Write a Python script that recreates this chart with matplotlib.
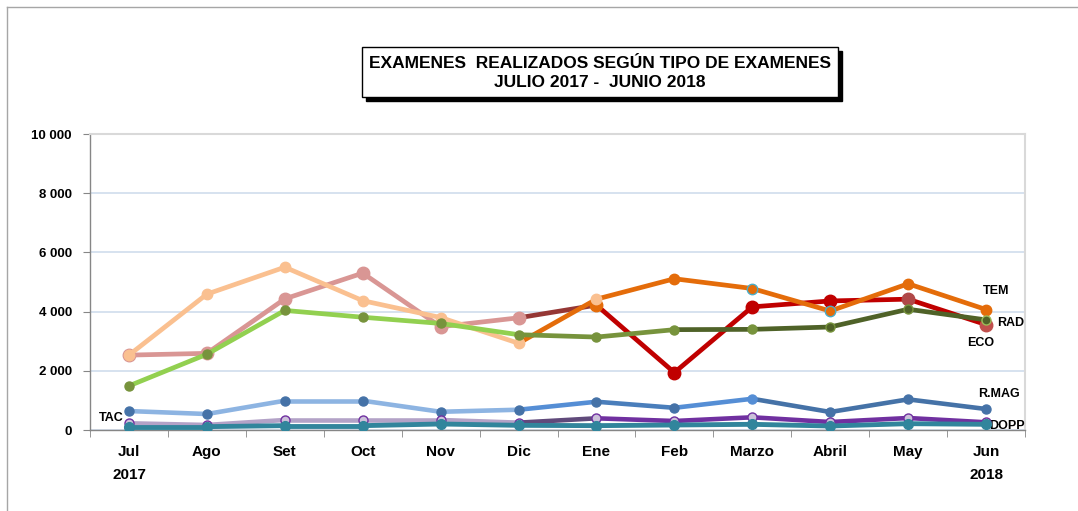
import matplotlib
matplotlib.use("Agg")
import matplotlib.pyplot as plt
from matplotlib.patches import Rectangle
from matplotlib.lines import Line2D

plt.rcParams['font.family'] = ['Liberation Sans', 'DejaVu Sans']

months = ["Jul\n2017", "Ago", "Set", "Oct", "Nov", "Dic", "Ene", "Feb",
          "Marzo", "Abril", "May", "Jun\n2018"]
yticks = [0, 2000, 4000, 6000, 8000, 10000]
ytick_labels = ["0", "2 000", "4 000", "6 000", "8 000", "10 000"]

ECO = [2530, 2590, 4430, 5300, 3490, 3790, 4220, 1940, 4160, 4360, 4420, 3560]
TEM = [2530, 4590, 5500, 4370, 3800, 2930, 4420, 5110, 4780, 4020, 4940, 4070]
RAD = [1490, 2560, 4040, 3810, 3600, 3220, 3140, 3390, 3400, 3480, 4080, 3720]
RMAG = [640, 540, 990, 990, 615, 685, 955, 750, 1055, 608, 1035, 709]
TAC = [226, 170, 338, 338, 338, 248, 395, 304, 429, 270, 405, 260]
DOPP = [113, 113, 147, 147, 203, 158, 147, 169, 192, 135, 214, 192]

# segment colours (11 segments) and marker styles (12 points)
ECO_seg = ['#D99694'] * 5 + ['#953735'] + ['#C00000'] * 5
ECO_mk = ['#D99694'] * 6 + ['#E46C0A', '#C00000', '#C00000', '#C00000', '#B04848', '#C0504D']
TEM_seg = ['#FAC090'] * 5 + ['#E46C0A'] * 6
TEM_mk = ['#FAC090'] * 7 + ['#E46C0A'] * 5
TEM_mke = ['#FAC090'] * 7 + ['#E46C0A', '#4BACC6', '#4BACC6', '#E46C0A', '#E46C0A']
RAD_seg = ['#92D050'] * 5 + ['#77933C', '#77933C'] + ['#4F6228'] * 4
RAD_mk = ['#77933C'] * 9 + ['#4F6228', '#4F6228', '#4F6228']
RAD_mke = ['#77933C'] * 9 + ['#77933C', '#77933C', '#9BBB59']
RMAG_seg = ['#8DB4E2'] * 5 + ['#558ED5', '#4A7EBB', '#558ED5'] + ['#4572A7'] * 3
RMAG_mk = ['#4572A7'] * 8 + ['#558ED5'] + ['#4572A7'] * 3
TAC_seg = ['#B3A2C7'] * 5 + ['#604A7B'] + ['#7030A0'] * 5
DOPP_seg = ['#31859C'] * 11

fig = plt.figure(figsize=(10.78, 5.11), dpi=100)
W, H = 1078, 511
ax = fig.add_axes([90 / W, 81 / H, 935 / W, 296 / H])

x = list(range(len(months)))


def draw(vals, segs, mface, medge, ms, lw, z):
    for i in range(len(vals) - 1):
        ax.plot([x[i], x[i + 1]], [vals[i], vals[i + 1]], color=segs[i], lw=lw,
                solid_capstyle='round', zorder=z)
    for i in range(len(vals)):
        ax.plot([x[i]], [vals[i]], 'o', ms=ms, mfc=mface[i], mec=medge[i],
                mew=1.0, zorder=z + 0.5)


draw(RMAG, RMAG_seg, RMAG_mk, RMAG_mk, 6.5, 3.3, 3)
draw(TAC, TAC_seg, ['#CCC1DA'] * 12, ['#7030A0'] * 12, 6.5, 3.3, 4)
draw(DOPP, DOPP_seg, ['#31859C'] * 12, ['#31859C'] * 12, 7, 3.5, 5)
draw(ECO, ECO_seg, ECO_mk, ECO_mk, 9, 3.4, 6)
draw(TEM, TEM_seg, TEM_mk, TEM_mke, 7.5, 3.4, 7)
draw(RAD, RAD_seg, RAD_mk, RAD_mke, 6.5, 3.4, 8)

ax.set_xlim(-0.5, 11.5)
ax.set_ylim(0, 10000)
ax.set_yticks(yticks)
ax.set_yticklabels(ytick_labels, fontsize=9.5, fontweight='bold')
ax.set_xticks(x)
ax.set_xticklabels(months, fontsize=11, fontweight='bold', linespacing=1.8)
ax.set_xticks([i + 0.5 for i in range(-1, 12)], minor=True)
ax.tick_params(axis='x', which='major', length=0, pad=11)
ax.tick_params(axis='x', which='minor', length=5, direction='out', color='#868686')
ax.tick_params(axis='y', length=5, direction='out', color='#868686', pad=8)
ax.grid(axis='y', color='#D3DFEE', lw=1.3, zorder=0)
ax.set_axisbelow(True)
for s in ['left', 'bottom']:
    ax.spines[s].set_color('#868686')
    ax.spines[s].set_linewidth(1.0)
for s in ['top', 'right']:
    ax.spines[s].set_color('#D9D9D9')
    ax.spines[s].set_linewidth(1.5)

# series labels
lab = dict(fontsize=9, fontweight='bold', ha='center', va='center',
           textcoords='offset points')
ax.annotate('TEM', (11, TEM[-1]), xytext=(7, 13), **lab)
ax.annotate('RAD', (11, RAD[-1]), xytext=(18, -2), **lab)
ax.annotate('ECO', (11, ECO[-1]), xytext=(-4, -13), **lab)
ax.annotate('R.MAG', (11, RMAG[-1]), xytext=(9, 11), **lab)
ax.annotate('DOPP', (11, DOPP[-1]), xytext=(15, -1), **lab)
ax.annotate('TAC', (0, TAC[0]), xytext=(-13, 4), **lab)

# title box with shadow
bx0, by0, bx1, by1 = 362, 47, 838, 97
sh = 4
fig.patches.append(Rectangle(((bx0 + sh) / W, 1 - (by1 + sh) / H), (bx1 - bx0) / W,
                             (by1 - by0) / H, transform=fig.transFigure,
                             facecolor='black', edgecolor='black', zorder=1))
fig.patches.append(Rectangle((bx0 / W, 1 - by1 / H), (bx1 - bx0) / W,
                             (by1 - by0) / H, transform=fig.transFigure,
                             facecolor='white', edgecolor='black', lw=1.0, zorder=2))
fig.text((bx0 + bx1) / 2 / W, 1 - 73 / H,
         "EXAMENES  REALIZADOS SEGÚN TIPO DE EXAMENES\nJULIO 2017 -  JUNIO 2018",
         ha='center', va='center', fontsize=12.5, fontweight='bold',
         linespacing=1.3, zorder=3)

# outer frame (top and left)
fig.add_artist(Line2D([7 / W, 1], [1 - 7 / H, 1 - 7 / H], transform=fig.transFigure,
                      color='#A6A6A6', lw=1.0))
fig.add_artist(Line2D([7 / W, 7 / W], [0, 1 - 7 / H], transform=fig.transFigure,
                      color='#A6A6A6', lw=1.0))

fig.savefig('out.png', dpi=100)
